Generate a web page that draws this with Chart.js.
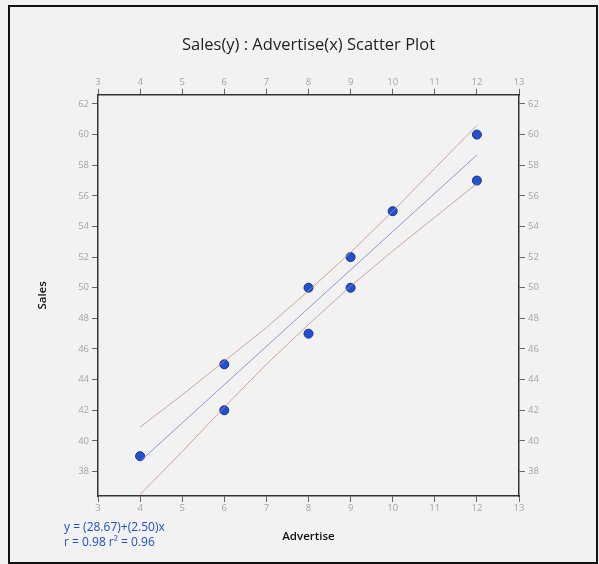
<!DOCTYPE html>
<html>
<head>
<meta charset="utf-8">
<script src="https://cdn.jsdelivr.net/npm/chart.js@4/dist/chart.umd.min.js"></script>
<style>
    body { margin: 0; background: #f2f2f2; }
    #wrap { position: relative; width: 599px; height: 564px; }
    #frame { position: absolute; left: 8px; top: 5px; width: 586px; height: 555px; border: 2px solid #111; }
    #chart { position: absolute; left: 0; top: 0; }
    .eq { position: absolute; left: 64px; font: 12px "Open Sans", sans-serif; color: #1f4fd0; white-space: nowrap; }
</style>
</head>
<body>
<div id="wrap">
    <div id="frame"></div>
    <canvas id="chart" width="599" height="564"></canvas>
    <div class="eq" style="top:518px">y = (28.67)+(2.50)x</div>
    <div class="eq" style="top:533px">r = 0.98 r² = 0.96</div>
</div>
<script>
const advertise = [4, 6, 6, 8, 8, 9, 9, 10, 12, 12];
const sales = [39, 45, 42, 50, 47, 52, 50, 55, 60, 57];

// regression line ends
const fitX = [4, 12];
const fitY = [38.67, 58.67];

// band lines
const bandX = [4, 5, 6, 7, 8, 9, 10, 11, 12];
const upperBand = [40.9, 43.0, 45.2, 47.4, 49.8, 52.3, 55.0, 57.8, 60.6];
const lowerBand = [36.5, 39.3, 42.2, 45.0, 47.6, 50.1, 52.4, 54.6, 56.8];

const xTicks = [3, 4, 5, 6, 7, 8, 9, 10, 11, 12, 13];
const yTicks = [38, 40, 42, 44, 46, 48, 50, 52, 54, 56, 58, 60, 62];

function toPoints(xs, ys) {
    return xs.map(function(x, i) { return { x: x, y: ys[i] }; });
}

function fixTicks(list) {
    return function(scale) {
        scale.ticks = list.map(function(v) { return { value: v }; });
    };
}

const tickFont = { family: 'Open Sans', size: 9.5 };

function axis(pos, list, min, max, pad, extra) {
    const a = {
        type: 'linear',
        position: pos,
        min: min,
        max: max,
        afterBuildTicks: fixTicks(list),
        grid: { drawOnChartArea: false, drawTicks: true, tickLength: 6, color: '#666', lineWidth: 1 },
        border: { display: true, color: '#333', width: 1.5 },
        ticks: { color: '#a4a4a4', font: tickFont, padding: pad, maxRotation: 0, autoSkip: false }
    };
    return Object.assign(a, extra);
}

const ctx = document.getElementById('chart').getContext('2d');
new Chart(ctx, {
    type: 'scatter',
    data: {
        datasets: [
            {
                label: 'upper',
                data: toPoints(bandX, upperBand),
                showLine: true,
                borderColor: 'rgba(190,140,125,0.75)',
                borderWidth: 1,
                pointRadius: 0
            },
            {
                label: 'lower',
                data: toPoints(bandX, lowerBand),
                showLine: true,
                borderColor: 'rgba(190,140,125,0.75)',
                borderWidth: 1,
                pointRadius: 0
            },
            {
                label: 'fit',
                data: toPoints(fitX, fitY),
                showLine: true,
                borderColor: 'rgba(120,140,190,0.85)',
                borderWidth: 1,
                pointRadius: 0
            },
            {
                label: 'Sales',
                data: toPoints(advertise, sales),
                backgroundColor: '#1f50d8',
                borderColor: '#1a2f7a',
                borderWidth: 1,
                pointRadius: 4.5
            }
        ]
    },
    options: {
        responsive: false,
        animation: false,
        devicePixelRatio: 1,
        layout: { padding: 0 },
        plugins: {
            legend: { display: false },
            tooltip: { enabled: false },
            title: {
                display: true,
                fullSize: false,
                text: 'Sales(y) : Advertise(x) Scatter Plot',
                color: '#222',
                font: { family: 'Open Sans', size: 16.5, weight: 'normal' },
                padding: { top: 35, bottom: 0 }
            }
        },
        scales: {
            x: axis('bottom', xTicks, 3, 13, 1, {
                afterFit: function(s) { s.height = 68; },
                title: { display: true, text: 'Advertise', color: '#111', font: { family: 'Open Sans', size: 11.5, weight: '600' }, padding: { top: 0, bottom: 20 } }
            }),
            x2: axis('top', xTicks, 3, 13, 1, {
                afterFit: function(s) { s.height = 95 - 35 - 20; }
            }),
            y: axis('left', yTicks, 36.4, 62.6, 3, {
                afterFit: function(s) { s.width = 98; },
                title: { display: true, text: 'Sales', color: '#111', font: { family: 'Open Sans', size: 11.5, weight: '600' }, padding: { top: 36, bottom: 0 } }
            }),
            y2: axis('right', yTicks, 36.4, 62.6, 3, {
                afterFit: function(s) { s.width = 80; }
            })
        }
    }
});
</script>
</body>
</html>
